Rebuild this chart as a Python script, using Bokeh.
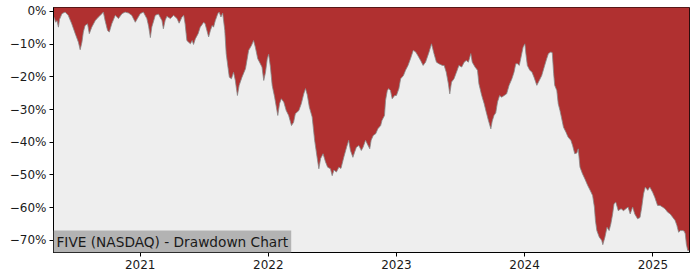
import pandas as pd
from bokeh.plotting import figure
from bokeh.models import ColumnDataSource, FixedTicker, DatetimeTickFormatter, Label, Range1d
from bokeh.embed import file_html
from bokeh.resources import INLINE

title_text = "FIVE (NASDAQ) - Drawdown Chart"

dates = [
    "2020-04-29", "2020-05-02", "2020-05-05", "2020-05-09", "2020-05-13", "2020-05-16", "2020-05-23",
    "2020-06-01", "2020-06-10", "2020-06-20", "2020-06-30", "2020-07-09", "2020-07-14", "2020-07-19",
    "2020-07-23", "2020-07-28", "2020-08-04", "2020-08-09", "2020-08-16", "2020-08-26", "2020-09-04",
    "2020-09-14", "2020-09-18", "2020-09-23", "2020-09-30", "2020-10-05", "2020-10-12", "2020-10-22",
    "2020-10-31", "2020-11-10", "2020-11-19", "2020-11-29", "2020-12-08", "2020-12-18", "2020-12-24",
    "2021-01-01", "2021-01-10", "2021-01-20", "2021-01-25", "2021-01-30", "2021-02-03", "2021-02-13",
    "2021-02-22", "2021-03-04", "2021-03-08", "2021-03-13", "2021-03-18", "2021-03-28", "2021-04-06",
    "2021-04-16", "2021-04-22", "2021-04-30", "2021-05-05", "2021-05-09", "2021-05-14", "2021-05-19",
    "2021-05-24", "2021-05-29", "2021-06-02", "2021-06-07", "2021-06-15", "2021-06-21", "2021-07-01",
    "2021-07-05", "2021-07-10", "2021-07-15", "2021-07-20", "2021-07-25", "2021-07-29", "2021-08-03",
    "2021-08-10", "2021-08-14", "2021-08-19", "2021-08-24", "2021-08-30", "2021-09-03", "2021-09-08",
    "2021-09-12", "2021-09-18", "2021-09-24", "2021-09-29", "2021-10-05", "2021-10-10", "2021-10-18",
    "2021-10-28", "2021-11-06", "2021-11-14", "2021-11-20", "2021-11-25", "2021-12-02", "2021-12-07",
    "2021-12-14", "2021-12-19", "2021-12-24", "2021-12-29", "2022-01-02", "2022-01-07", "2022-01-12",
    "2022-01-19", "2022-01-24", "2022-01-28", "2022-02-02", "2022-02-07", "2022-02-14", "2022-02-21",
    "2022-02-28", "2022-03-08", "2022-03-14", "2022-03-19", "2022-03-29", "2022-04-05", "2022-04-12",
    "2022-04-17", "2022-04-22", "2022-04-28", "2022-05-06", "2022-05-13", "2022-05-20", "2022-05-25",
    "2022-05-30", "2022-06-06", "2022-06-13", "2022-06-19", "2022-06-27", "2022-07-02", "2022-07-07",
    "2022-07-14", "2022-07-21", "2022-07-27", "2022-08-04", "2022-08-12", "2022-08-18", "2022-08-23",
    "2022-08-30", "2022-09-04", "2022-09-09", "2022-09-16", "2022-09-23", "2022-09-28", "2022-10-05",
    "2022-10-10", "2022-10-17", "2022-10-21", "2022-10-27", "2022-11-03", "2022-11-09", "2022-11-17",
    "2022-11-21", "2022-11-28", "2022-12-01", "2022-12-06", "2022-12-10", "2022-12-15", "2022-12-20",
    "2022-12-27", "2023-01-01", "2023-01-08", "2023-01-13", "2023-01-21", "2023-01-27", "2023-02-03",
    "2023-02-10", "2023-02-18", "2023-02-25", "2023-03-03", "2023-03-11", "2023-03-18", "2023-03-25",
    "2023-04-04", "2023-04-11", "2023-04-18", "2023-04-25", "2023-05-02", "2023-05-12", "2023-05-17",
    "2023-05-23", "2023-05-29", "2023-06-02", "2023-06-07", "2023-06-14", "2023-06-21", "2023-06-28",
    "2023-07-06", "2023-07-13", "2023-07-19", "2023-07-25", "2023-08-01", "2023-08-05", "2023-08-13",
    "2023-08-20", "2023-08-24", "2023-09-01", "2023-09-08", "2023-09-14", "2023-09-20", "2023-09-27",
    "2023-10-01", "2023-10-06", "2023-10-11", "2023-10-16", "2023-10-22", "2023-10-28", "2023-11-04",
    "2023-11-11", "2023-11-18", "2023-11-26", "2023-12-02", "2023-12-07", "2023-12-12", "2023-12-17",
    "2023-12-21", "2023-12-28", "2024-01-02", "2024-01-05", "2024-01-09", "2024-01-16", "2024-01-22",
    "2024-01-28", "2024-02-05", "2024-02-12", "2024-02-19", "2024-02-26", "2024-03-04", "2024-03-09",
    "2024-03-16", "2024-03-20", "2024-03-24", "2024-03-27", "2024-04-02", "2024-04-06", "2024-04-11",
    "2024-04-15", "2024-04-21", "2024-04-28", "2024-05-04", "2024-05-12", "2024-05-17", "2024-05-23",
    "2024-05-29", "2024-06-02", "2024-06-07", "2024-06-14", "2024-06-21", "2024-06-29", "2024-07-06",
    "2024-07-13", "2024-07-18", "2024-07-21", "2024-07-25", "2024-08-01", "2024-08-08", "2024-08-11",
    "2024-08-17", "2024-08-23", "2024-08-29", "2024-09-03", "2024-09-08", "2024-09-12", "2024-09-17",
    "2024-09-24", "2024-10-02", "2024-10-09", "2024-10-16", "2024-10-22", "2024-10-28", "2024-11-04",
    "2024-11-10", "2024-11-18", "2024-11-25", "2024-11-30", "2024-12-05", "2024-12-10", "2024-12-17",
    "2024-12-23", "2024-12-31", "2025-01-06", "2025-01-14", "2025-01-21", "2025-01-28", "2025-02-04",
    "2025-02-12", "2025-02-19", "2025-02-26", "2025-03-05", "2025-03-10", "2025-03-15", "2025-03-20",
    "2025-03-27", "2025-03-31", "2025-04-03", "2025-04-06", "2025-04-10", "2025-04-15",
]

drawdown_pct = [
    -1.5, -2.2, -3.3, -2.8, -4.8, -2.5, -0.7,
    -0.2, -1.2, -3.8, -6.8, -9.4, -11.7, -9.4,
    -6.3, -4.3, -3.8, -6.8, -4.8, -2.8, -1.7,
    -0.7, -0.2, -2.8, -5.8, -6.3, -3.8, -1.2,
    -2.2, -0.7, -0.2, -0.5, -1.2, -3.3, -2.2,
    -0.7, -0.2, -2.2, -4.5, -8.0, -4.8, -1.2,
    -0.8, -2.8, -5.3, -2.8, -1.5, -2.2, -1.2,
    -2.2, -3.6, -1.7, -1.2, -3.8, -8.9, -9.4,
    -9.9, -8.9, -10.1, -8.4, -6.8, -4.8, -3.3,
    -3.8, -5.8, -7.8, -5.8, -4.3, -4.8, -2.8,
    -0.7, -0.2, -1.7, -0.5, -5.8, -12.9, -17.0,
    -20.1, -20.6, -18.6, -21.1, -25.7, -22.6, -20.1,
    -17.5, -11.9, -10.4, -8.9, -10.9, -14.5, -15.5,
    -17.0, -21.1, -18.6, -14.5, -13.1, -17.0, -22.6,
    -26.2, -29.3, -31.8, -28.2, -26.7, -27.7, -30.3,
    -31.8, -34.9, -33.9, -31.3, -30.3, -28.2, -25.2,
    -23.6, -25.5, -29.3, -32.3, -39.4, -44.6, -48.1,
    -45.0, -43.5, -46.0, -47.6, -48.1, -50.2, -48.5,
    -49.1, -47.6, -48.0, -44.6, -41.5, -39.4, -42.5,
    -44.6, -43.0, -41.5, -41.0, -42.5, -41.5, -39.4,
    -40.5, -42.0, -39.4, -37.9, -37.4, -35.9, -34.9,
    -33.3, -31.8, -27.2, -24.2, -23.6, -24.2, -26.7,
    -25.7, -25.7, -23.6, -20.6, -19.6, -18.0, -16.5,
    -14.5, -11.9, -12.4, -13.5, -15.0, -16.5, -15.5,
    -12.4, -9.9, -12.9, -15.5, -16.0, -16.5, -16.5,
    -18.6, -22.1, -25.2, -21.6, -20.6, -18.6, -16.5,
    -17.0, -15.5, -15.0, -15.5, -12.9, -15.5, -17.0,
    -18.0, -22.1, -25.7, -28.2, -30.8, -33.3, -35.9,
    -33.5, -31.8, -31.0, -27.7, -25.7, -26.2, -25.7,
    -25.2, -22.6, -20.6, -18.6, -16.0, -16.0, -16.5,
    -14.5, -10.9, -9.9, -13.0, -16.5, -18.0, -18.5,
    -20.1, -22.6, -21.1, -19.6, -17.0, -14.5, -12.9,
    -12.4, -12.6, -19.0, -22.6, -24.2, -28.2, -30.3,
    -32.3, -35.4, -36.9, -38.4, -39.4, -41.0, -43.5,
    -43.3, -42.0, -47.6, -49.6, -51.2, -53.2, -54.7,
    -56.3, -59.8, -63.9, -67.0, -69.0, -70.0, -71.3,
    -69.0, -66.0, -67.0, -64.9, -61.9, -58.8, -58.3,
    -60.9, -60.3, -60.9, -60.3, -59.8, -61.9, -59.8,
    -61.9, -63.4, -63.0, -59.8, -55.8, -53.7, -54.7,
    -53.7, -55.3, -56.8, -59.3, -59.3, -59.8, -60.3,
    -61.4, -61.9, -62.9, -63.9, -65.4, -67.5, -67.0,
    -67.0, -67.2, -68.0, -71.1, -73.1, -73.0,
]

y_ticks = [0, -10, -20, -30, -40, -50, -60, -70]
y_tick_labels = ["0%", "\u221210%", "\u221220%", "\u221230%", "\u221240%", "\u221250%", "\u221260%", "\u221270%"]
x_tick_years = ["2021-01-01", "2022-01-01", "2023-01-01", "2024-01-01", "2025-01-01"]

dt = pd.to_datetime(dates)
src = ColumnDataSource(dict(x=dt, dd=drawdown_pct, top=[5.0] * len(dates)))

p = figure(width=700, height=280, x_axis_type="datetime",
           output_backend="svg", toolbar_location=None,
           x_range=Range1d(dt[0], dt[-1]), y_range=Range1d(-73.7, 1.2))
p.min_border_left = 53
p.min_border_right = 11
p.min_border_top = 7
p.min_border_bottom = 28

p.background_fill_color = "#eeeeee"
p.border_fill_color = "white"
p.outline_line_color = "black"
p.outline_line_width = 1
p.grid.visible = False

p.varea(x="x", y1="dd", y2="top", source=src, fill_color="#b03030")
p.line(x="x", y="dd", source=src, line_color="#888888", line_width=1, line_alpha=0.8)

p.yaxis.ticker = FixedTicker(ticks=y_ticks)
p.yaxis.major_label_overrides = {t: l for t, l in zip(y_ticks, y_tick_labels)}
tick_ms = [pd.Timestamp(d).value // 10**6 for d in x_tick_years]
p.xaxis.ticker = FixedTicker(ticks=tick_ms)
p.xaxis.formatter = DatetimeTickFormatter(years="%Y", months="%Y", days="%Y", hours="%Y")

for ax in (p.xaxis, p.yaxis):
    ax.axis_line_color = "black"
    ax.major_tick_line_color = "black"
    ax.major_tick_out = 4
    ax.major_tick_in = 0
    ax.minor_tick_line_color = None
    ax.major_label_text_font = "DejaVu Sans"
    ax.major_label_text_font_size = "12px"
    ax.major_label_text_color = "#1a1a1a"
p.yaxis.major_label_standoff = 3
p.xaxis.major_label_standoff = 3

lab = Label(x=dt[0], y=-73.7, text=title_text, text_font="DejaVu Sans",
            text_font_size="13.7px", text_color="#1a1a1a", text_baseline="bottom",
            background_fill_color="#b3b3b3", padding=3)
p.add_layout(lab)

open("out.html", "w").write(file_html(p, INLINE))
